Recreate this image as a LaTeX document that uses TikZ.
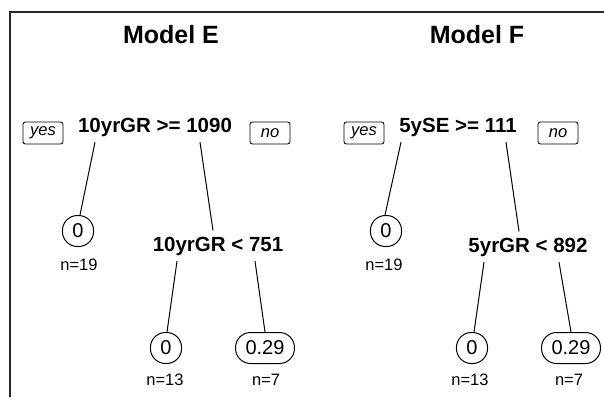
\documentclass[tikz,border=0pt]{standalone}
\usepackage{fontspec}
\setmainfont{Liberation Sans}
\usetikzlibrary{positioning}

\begin{document}
\begin{tikzpicture}[x=1pt,y=-1pt,
            title/.style={font=\fontsize{25}{30}\selectfont\bfseries,anchor=base},
            split/.style={font=\fontsize{20.5}{24}\selectfont\bfseries,anchor=base,text depth=4pt,inner ysep=6pt},
            leaf/.style={draw,rounded corners=15pt,minimum width=28pt,minimum height=31pt,inner xsep=10pt,inner ysep=0pt,font=\fontsize{20}{23}\selectfont,line width=1pt},
            count/.style={font=\fontsize{16.5}{19}\selectfont,anchor=base},
            answer/.style={draw,rounded corners=2.5pt,minimum width=40pt,minimum height=22pt,inner sep=0pt,font=\fontsize{16.5}{19}\selectfont\itshape,line width=0.9pt},
            branch/.style={line width=1pt}]
            \useasboundingbox (0,0) rectangle (604,397);

            % frame
            \draw[line width=1.5pt,black!85] (604,12) -- (10,12) -- (10,397);

            % Model E
            \node[title] (titleE) at (171,43) {Model E};
            \node[split] (rootE) at (155,132) {10yrGR >= 1090};
            \node[answer] (yesE) at (43,133) {yes};
            \node[answer] (noE) at (270,133) {no};
            \node[leaf] (leafEa) at (78,231) {0};
            \node[count] (nEa) at (79,270) {n=19};
            \node[split] (splitE) at (218,251) {10yrGR < 751};
            \node[leaf] (leafEb) at (166,348) {0};
            \node[count] (nEb) at (165,385) {n=13};
            \node[leaf] (leafEc) at (265,348) {0.29};
            \node[count] (nEc) at (266,385) {n=7};

            \draw[branch] ([xshift=-60pt]rootE.south) -- ([xshift=2pt]leafEa.north);
            \draw[branch] ([xshift=45pt]rootE.south) -- ([xshift=-5pt]splitE.north);
            \draw[branch] ([xshift=-41pt]splitE.south) -- ([xshift=1pt]leafEb.north);
            \draw[branch] ([xshift=37pt]splitE.south) -- (leafEc.north);

            % Model F
            \node[title] (titleF) at (477,43) {Model F};
            \node[split] (rootF) at (458,132) {5ySE >= 111};
            \node[answer] (yesF) at (364,133) {yes};
            \node[answer] (noF) at (558,133) {no};
            \node[leaf] (leafFa) at (386,231) {0};
            \node[count] (nFa) at (384,270) {n=19};
            \node[split] (splitF) at (528,252) {5yrGR < 892};
            \node[leaf] (leafFb) at (472,348) {0};
            \node[count] (nFb) at (470,385) {n=13};
            \node[leaf] (leafFc) at (571,348) {0.29};
            \node[count] (nFc) at (569,385) {n=7};

            \draw[branch] ([xshift=-57pt]rootF.south) -- ([xshift=-1pt]leafFa.north);
            \draw[branch] ([xshift=48pt]rootF.south) -- ([xshift=-9pt]splitF.north);
            \draw[branch] ([xshift=-44pt]splitF.south) -- ([xshift=2pt]leafFb.north);
            \draw[branch] ([xshift=31pt]splitF.south) -- (leafFc.north);
         \end{tikzpicture}
\end{document}
